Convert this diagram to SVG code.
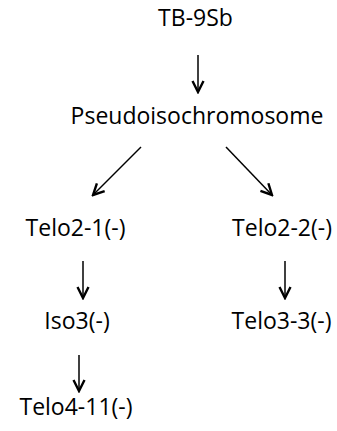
<svg xmlns="http://www.w3.org/2000/svg" width="337" height="431" viewBox="0 0 337 431">
<style>
text{font-family:"Open Sans","Noto Sans",sans-serif;font-size:23px;fill:#000;text-anchor:middle}
.c line{stroke:#000;stroke-width:1.5;fill:none;marker-end:url(#ah)}
</style>
<defs>
<marker id="ah" markerUnits="userSpaceOnUse" viewBox="-14 -8 16 16" refX="0" refY="0" markerWidth="16" markerHeight="16" orient="auto">
<path d="M-11,-5.5 L0,0 L-11,5.5" fill="none" stroke="#000" stroke-width="2.4" stroke-linejoin="miter"/>
</marker>
</defs>
<rect width="337" height="431" fill="#fff"/>
<g class="c" id="connectors">
<line x1="198" y1="55" x2="198" y2="92"/>
<line x1="141" y1="147" x2="93" y2="195"/>
<line x1="226" y1="147" x2="272" y2="195"/>
<line x1="83" y1="261" x2="83" y2="298"/>
<line x1="285" y1="261" x2="285" y2="298"/>
<line x1="79" y1="355" x2="79" y2="391"/>
</g>
<g id="n1"><text x="195.5" y="26">TB-9Sb</text></g>
<g id="n2"><text x="197" y="124">Pseudoisochromosome</text></g>
<g id="n3"><text x="75.5" y="236">Telo2-1(-)</text></g>
<g id="n4"><text x="282" y="236">Telo2-2(-)</text></g>
<g id="n5"><text x="77" y="329">Iso3(-)</text></g>
<g id="n6"><text x="281.5" y="329">Telo3-3(-)</text></g>
<g id="n7"><text x="76" y="415">Telo4-11(-)</text></g>
</svg>
